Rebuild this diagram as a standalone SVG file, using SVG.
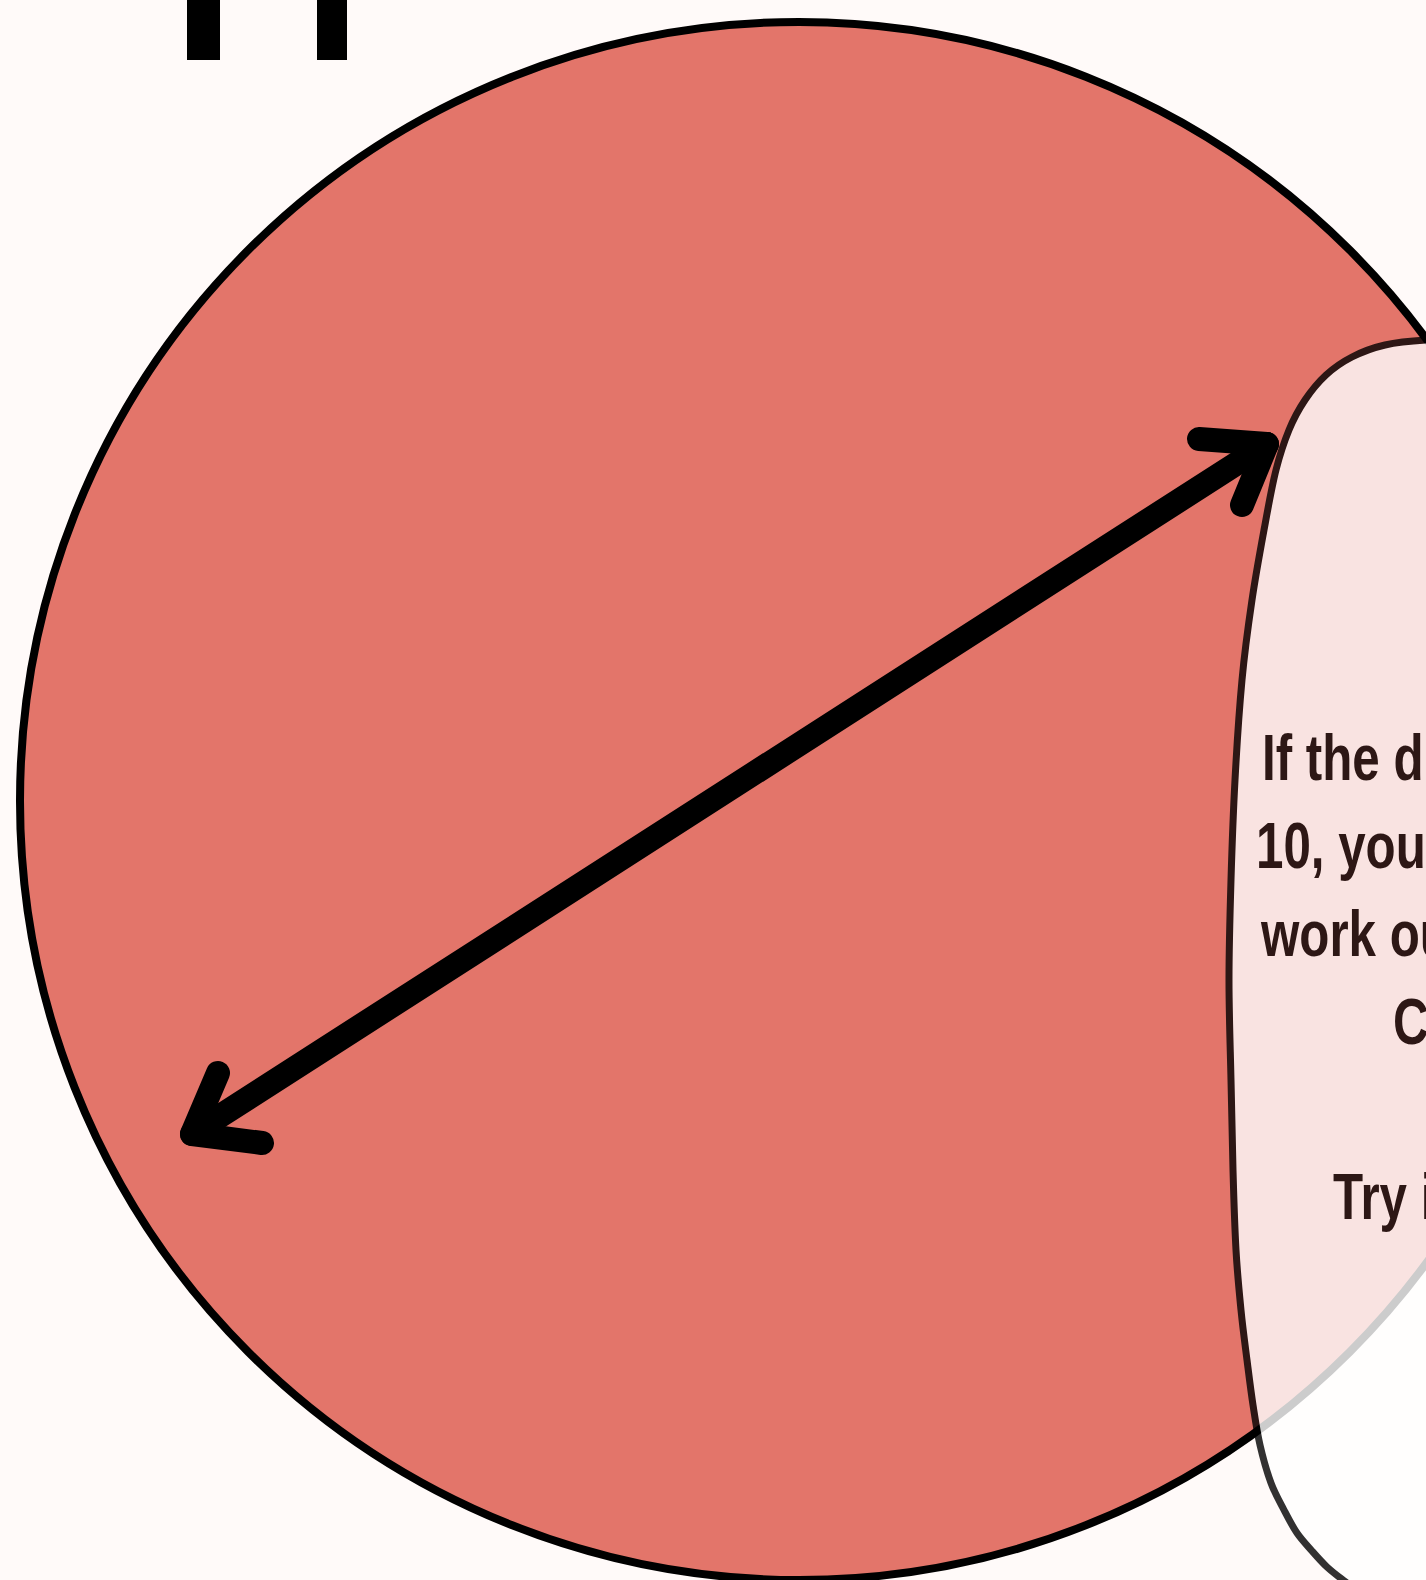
<svg xmlns="http://www.w3.org/2000/svg" width="1426" height="1580" viewBox="0 0 1426 1580">
  <style>
    .bg { fill: #fffaf9; }
    .disc { fill: #e3756a; stroke: #000; stroke-width: 8; }
    .arrow { fill: none; stroke: #000; stroke-width: 24; stroke-linecap: round; stroke-linejoin: round; }
    .callout { opacity: 0.8; }
    .bubble { fill: #ffffff; stroke: #000; stroke-width: 7; }
    .label { font-family: "Liberation Sans", Arial, sans-serif; font-weight: bold; font-size: 64px; fill: #000; }
  </style>
  <rect class="bg" x="0" y="0" width="1426" height="1580"/>
  <g id="title-marks">
    <rect x="187" y="-10" width="33" height="70" fill="#000"/>
    <rect x="317" y="-10" width="30" height="70" fill="#000"/>
  </g>
  <g id="circle">
    <circle class="disc" cx="799" cy="801" r="779"/>
  </g>
  <g id="connectors">
    <line class="arrow" x1="192" y1="1134" x2="1267" y2="444"/>
    <polyline class="arrow" points="218,1073 192,1134 262,1143"/>
    <polyline class="arrow" points="1199,439 1267,444 1242,505"/>
  </g>
  <g id="callout" class="callout">
    <path class="bubble" d="M 1500 338 L 1426 340 C 1406.8 341.2 1397.3 342.2 1385 345 C 1372.7 347.8 1361.8 352 1352 357 C 1342.2 362 1333.8 367.8 1326 375 C 1318.2 382.2 1311.2 390.8 1305 400 C 1298.8 409.2 1293.8 418.3 1289 430 C 1284.2 441.7 1280.2 453.3 1276 470 C 1271.8 486.7 1268 508.3 1264 530 C 1260 551.7 1255.7 575 1252 600 C 1248.3 625 1244.8 650 1242 680 C 1239.2 710 1236.8 746.7 1235 780 C 1233.2 813.3 1232 846.7 1231 880 C 1230 913.3 1229 946.7 1229 980 C 1229 1013.3 1230.3 1048.3 1231 1080 C 1231.7 1111.7 1232.2 1141.7 1233 1170 C 1233.8 1198.3 1234.7 1226.7 1236 1250 C 1237.3 1273.3 1239.2 1291.7 1241 1310 C 1242.8 1328.3 1245 1344.2 1247 1360 C 1249 1375.8 1250.8 1390.8 1253 1405 C 1255.2 1419.2 1257 1432 1260 1445 C 1263 1458 1267 1472.2 1271 1483 C 1275 1493.8 1279.7 1501.7 1284 1510 C 1288.3 1518.3 1292.3 1526.2 1297 1533 C 1301.7 1539.8 1307 1545.3 1312 1551 C 1317 1556.7 1321.8 1562.2 1327 1567 C 1332.2 1571.8 1335.8 1574.5 1343 1580 L 1370 1600 L 1500 1600 Z"/>
    <text class="label" transform="translate(1262,780) scale(0.77,1)">If the d</text>
    <text class="label" transform="translate(1256,868) scale(0.77,1)">10, you</text>
    <text class="label" transform="translate(1261,956) scale(0.77,1)">work ou</text>
    <text class="label" transform="translate(1393,1044) scale(0.77,1)">C</text>
    <text class="label" transform="translate(1333,1219) scale(0.77,1)">Try i</text>
  </g>
</svg>
